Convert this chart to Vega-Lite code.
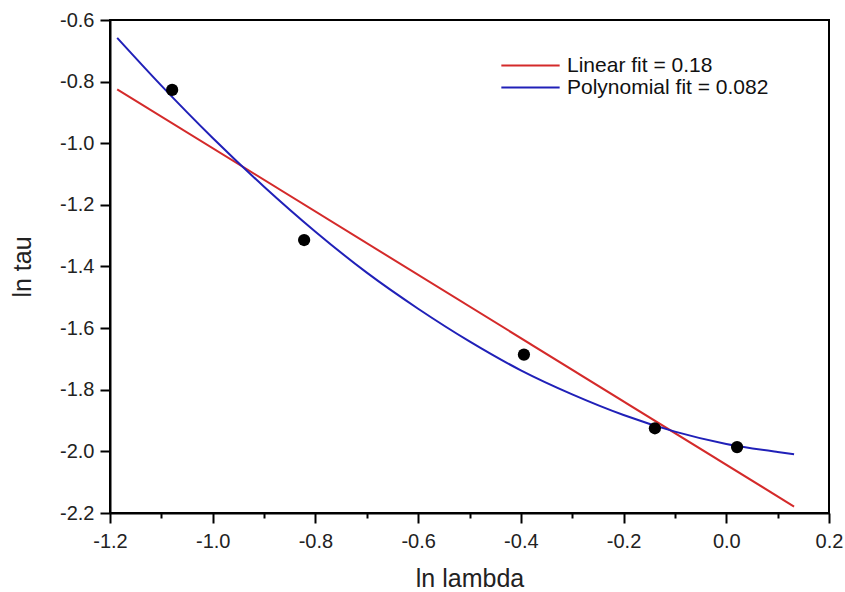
{
  "$schema": "https://vega.github.io/schema/vega-lite/v6.json",
  "width": 719,
  "height": 493,
  "autosize": "none",
  "padding": {"left": 110, "top": 20, "right": 16, "bottom": 79},
  "background": "white",
  "config": {
    "font": "Liberation Sans",
    "view": {"stroke": "black", "strokeWidth": 2},
    "axis": {
      "domainColor": "black", "domainWidth": 2, "tickColor": "black", "tickWidth": 2,
      "labelColor": "#222222", "titleColor": "#222222", "grid": false,
      "labelFont": "Liberation Sans", "titleFont": "Liberation Sans",
      "labelFontSize": 20, "titleFontSize": 25, "titleFontWeight": "normal",
      "labelOverlap": false, "labelFlush": false
    }
  },
  "datasets": {
    "points": [
      {"lnlambda": -1.079, "lntau": -0.827},
      {"lnlambda": -0.822, "lntau": -1.314},
      {"lnlambda": -0.394, "lntau": -1.686},
      {"lnlambda": -0.139, "lntau": -1.925},
      {"lnlambda": 0.021, "lntau": -1.986}
    ],
    "fits": [
      {"lnlambda": -1.186, "lntau": -0.825, "fit": "Linear fit = 0.18"},
      {"lnlambda": 0.132, "lntau": -2.179, "fit": "Linear fit = 0.18"},
      {"lnlambda": -1.186, "lntau": -0.658, "fit": "Polynomial fit = 0.082"},
      {"lnlambda": -1.1, "lntau": -0.813, "fit": "Polynomial fit = 0.082"},
      {"lnlambda": -1.0, "lntau": -0.983, "fit": "Polynomial fit = 0.082"},
      {"lnlambda": -0.9, "lntau": -1.141, "fit": "Polynomial fit = 0.082"},
      {"lnlambda": -0.8, "lntau": -1.287, "fit": "Polynomial fit = 0.082"},
      {"lnlambda": -0.7, "lntau": -1.42, "fit": "Polynomial fit = 0.082"},
      {"lnlambda": -0.6, "lntau": -1.537, "fit": "Polynomial fit = 0.082"},
      {"lnlambda": -0.5, "lntau": -1.643, "fit": "Polynomial fit = 0.082"},
      {"lnlambda": -0.4, "lntau": -1.737, "fit": "Polynomial fit = 0.082"},
      {"lnlambda": -0.3, "lntau": -1.815, "fit": "Polynomial fit = 0.082"},
      {"lnlambda": -0.2, "lntau": -1.882, "fit": "Polynomial fit = 0.082"},
      {"lnlambda": -0.1, "lntau": -1.936, "fit": "Polynomial fit = 0.082"},
      {"lnlambda": 0.0, "lntau": -1.976, "fit": "Polynomial fit = 0.082"},
      {"lnlambda": 0.1, "lntau": -2.002, "fit": "Polynomial fit = 0.082"},
      {"lnlambda": 0.132, "lntau": -2.009, "fit": "Polynomial fit = 0.082"}
    ]
  },
  "layer": [
    {
      "data": {"name": "fits"},
      "mark": {"type": "line", "strokeWidth": 2, "interpolate": "monotone"},
      "encoding": {
        "x": {
          "field": "lnlambda", "type": "quantitative",
          "scale": {"domain": [-1.2, 0.2], "nice": false, "zero": false},
          "axis": {
            "title": "ln lambda", "titlePadding": 15,
            "values": [-1.2, -1.1, -1.0, -0.9, -0.8, -0.7, -0.6, -0.5, -0.4, -0.3, -0.2, -0.1, 0.0, 0.1, 0.2],
            "labelExpr": "abs(round(datum.value*10)) % 2 == 0 ? replace(format(datum.value, '.1f'), '\u2212', '-') : ''",
            "tickSize": {"condition": {"test": "abs(round(datum.value*10)) % 2 == 0", "value": 10}, "value": 5},
            "labelPadding": 8
          }
        },
        "y": {
          "field": "lntau", "type": "quantitative",
          "scale": {"domain": [-2.2, -0.6], "nice": false, "zero": false},
          "axis": {
            "title": "ln tau", "titlePadding": 24,
            "values": [-2.2, -2.1, -2.0, -1.9, -1.8, -1.7, -1.6, -1.5, -1.4, -1.3, -1.2, -1.1, -1.0, -0.9, -0.8, -0.7, -0.6],
            "labelExpr": "abs(round(datum.value*10)) % 2 == 0 ? replace(format(datum.value, '.1f'), '\u2212', '-') : ''",
            "tickSize": {"condition": {"test": "abs(round(datum.value*10)) % 2 == 0", "value": 10}, "value": 5},
            "labelPadding": 6
          }
        },
        "color": {
          "field": "fit", "type": "nominal",
          "scale": {"domain": ["Linear fit = 0.18", "Polynomial fit = 0.082"], "range": ["#d42a2a", "#2020b8"]},
          "legend": {
            "title": null, "orient": "none", "legendX": 410, "legendY": 35,
            "symbolType": "M-5,0H5", "symbolSize": 136, "symbolStrokeWidth": 2,
            "labelFontSize": 21, "labelColor": "#111111", "labelFont": "Liberation Sans",
            "labelOffset": 26, "rowPadding": 0, "labelLimit": 400, "padding": 0
          }
        }
      }
    },
    {
      "data": {"name": "points"},
      "mark": {"type": "circle", "size": 150, "color": "black", "opacity": 1},
      "encoding": {
        "x": {"field": "lnlambda", "type": "quantitative"},
        "y": {"field": "lntau", "type": "quantitative"}
      }
    }
  ]
}
